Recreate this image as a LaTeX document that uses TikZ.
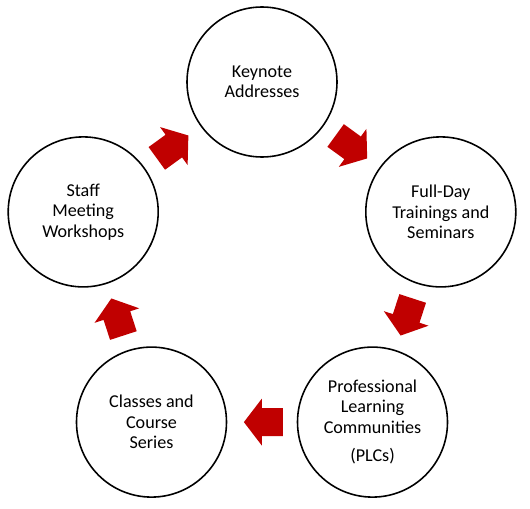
\documentclass[tikz,border=0pt]{standalone}
\usepackage{fontspec}
\setmainfont{Carlito}
\definecolor{flowred}{HTML}{C00000}
\begin{document}
\begin{tikzpicture}[
    font=\fontsize{10.3}{11.6}\selectfont,
    stage/.style={circle, draw=black, line width=0.9pt, minimum size=3cm,
      inner sep=0pt, align=center},
    flow/.style={sloped, allow upside down},
    blockarrow/.pic={
      \fill[flowred] (-0.39,0.28) -- (0.03,0.28) -- (0.03,0.47) -- (0.39,0)
        -- (0.03,-0.47) -- (0.03,-0.28) -- (-0.39,-0.28) -- cycle;
    }
]
\def\R{3.76}

\useasboundingbox (-5.24,5.40) rectangle (5.36,-4.76);

% five stages round a pentagon
\node[stage] (keynote) at (90:\R) {Keynote\\Addresses};
\node[stage] (fullday) at (18:\R) {Full-Day\\Trainings and\\Seminars};
\node[stage] (plc) at (-54:\R) {Professional\\Learning\\Communities\\[0.17cm](PLCs)};
\node[stage] (classes) at (-126:\R) {Classes and\\Course\\Series};
\node[stage] (staff) at (162:\R) {Staff\\Meeting\\Workshops};

% block arrows between neighbours
\path (keynote) -- (fullday) pic[flow, midway] {blockarrow};
\path (fullday) -- (plc) pic[flow, midway] {blockarrow};
\path (plc) -- (classes) pic[flow, pos=0.48] {blockarrow};
\path (classes) -- (staff) pic[flow, midway] {blockarrow};
\path (staff) -- (keynote) pic[flow, midway] {blockarrow};
\end{tikzpicture}
\end{document}
